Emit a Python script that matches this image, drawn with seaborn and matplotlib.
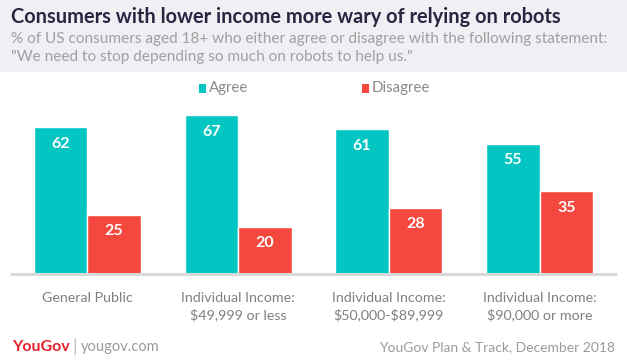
import matplotlib
matplotlib.use("Agg")
import matplotlib.pyplot as plt
import seaborn as sns
import pandas as pd
from matplotlib.patches import Rectangle

categories = ["General Public", "Individual Income:\n$49,999 or less",
              "Individual Income:\n$50,000-$89,999", "Individual Income:\n$90,000 or more"]
series_names = ["Agree", "Disagree"]
agree = [62, 67, 61, 55]
disagree = [25, 20, 28, 35]
colors = ["#03c6c3", "#f4483f"]

df = pd.DataFrame({
    "category": categories * 2,
    "series": [series_names[0]] * 4 + [series_names[1]] * 4,
    "value": agree + disagree,
})

sns.set_theme(style="white")
plt.rcParams['font.family'] = ['Lato', 'DejaVu Sans']

W, H = 627, 362
fig = plt.figure(figsize=(W / 100, H / 100), dpi=100)
fig.patch.set_facecolor("white")

# header band
fig.patches.append(Rectangle((0, 1 - 72 / H), 1, 72 / H, transform=fig.transFigure,
                             facecolor="#efeff4", edgecolor="none", zorder=0))
fig.text(11 / W, 1 - 17 / H, "Consumers with lower income more wary of relying on robots",
         fontsize=14.4, fontweight="bold", color="#2b2541", va="center", ha="left")
fig.text(11 / W, 1 - 39 / H,
         "% of US consumers aged 18+ who either agree or disagree with the following statement:",
         fontsize=11.1, color="#a0a0a0", va="center", ha="left", parse_math=False)
fig.text(11 / W, 1 - 57 / H,
         "\"We need to stop depending so much on robots to help us.\"",
         fontsize=11.1, color="#a0a0a0", va="center", ha="left")

ymax = 70
base = 274
pxu = 2.37
ax = fig.add_axes([12 / W, (H - base) / H, 603 / W, ymax * pxu / H])
sns.barplot(data=df, x="category", y="value", hue="series", palette=colors,
            width=0.71, gap=0, dodge=True, saturation=1, ax=ax, legend=False)
ax.set_xlim(-0.5, 3.5)
ax.set_ylim(0, ymax)
ax.set_xlabel("")
ax.set_ylabel("")
ax.set_yticks([])
for s in ["top", "right", "left"]:
    ax.spines[s].set_visible(False)
ax.spines["bottom"].set_color("#d9d9d9")
ax.spines["bottom"].set_linewidth(2.2)
ax.tick_params(axis="x", length=0, pad=13)
ax.set_xticks(range(len(categories)))
ax.set_xticklabels(categories, parse_math=False, color="#808080", fontsize=10.3,
                   linespacing=1.35)

for cont in ax.containers:
    for bar, v in zip(cont, cont.datavalues):
        ax.annotate(f"{int(v)}", (bar.get_x() + bar.get_width() / 2, bar.get_height()),
                    xytext=(0, -12), textcoords="offset points", ha="center", va="center",
                    color="white", fontsize=11.5, fontweight="bold")

# legend
for i, (name, c) in enumerate(zip(series_names, colors)):
    x0 = [199, 362][i]
    fig.patches.append(Rectangle((x0 / W, 1 - 93 / H), 7 / W, 9 / H, transform=fig.transFigure,
                                 facecolor=c, edgecolor="none"))
    fig.text((x0 + 10) / W, 1 - 88 / H, name, fontsize=10.8, color="#8a8a8a",
             va="center", ha="left")

# footer
fig.text(12 / W, 1 - 347 / H, "YouGov", fontsize=11.5, fontweight="bold", color="#e8202c",
         va="center", ha="left")
fig.text(72 / W, 1 - 347 / H, "|", fontsize=13, color="#bdbdbd", va="center", ha="left")
fig.text(81 / W, 1 - 347 / H, "yougov.com", fontsize=10.5, color="#9b9b9b",
         va="center", ha="left")
fig.text(615 / W, 1 - 347 / H, "YouGov Plan & Track, December 2018", fontsize=10,
         color="#9b9b9b", va="center", ha="right")

fig.savefig("out.png", dpi=100)
